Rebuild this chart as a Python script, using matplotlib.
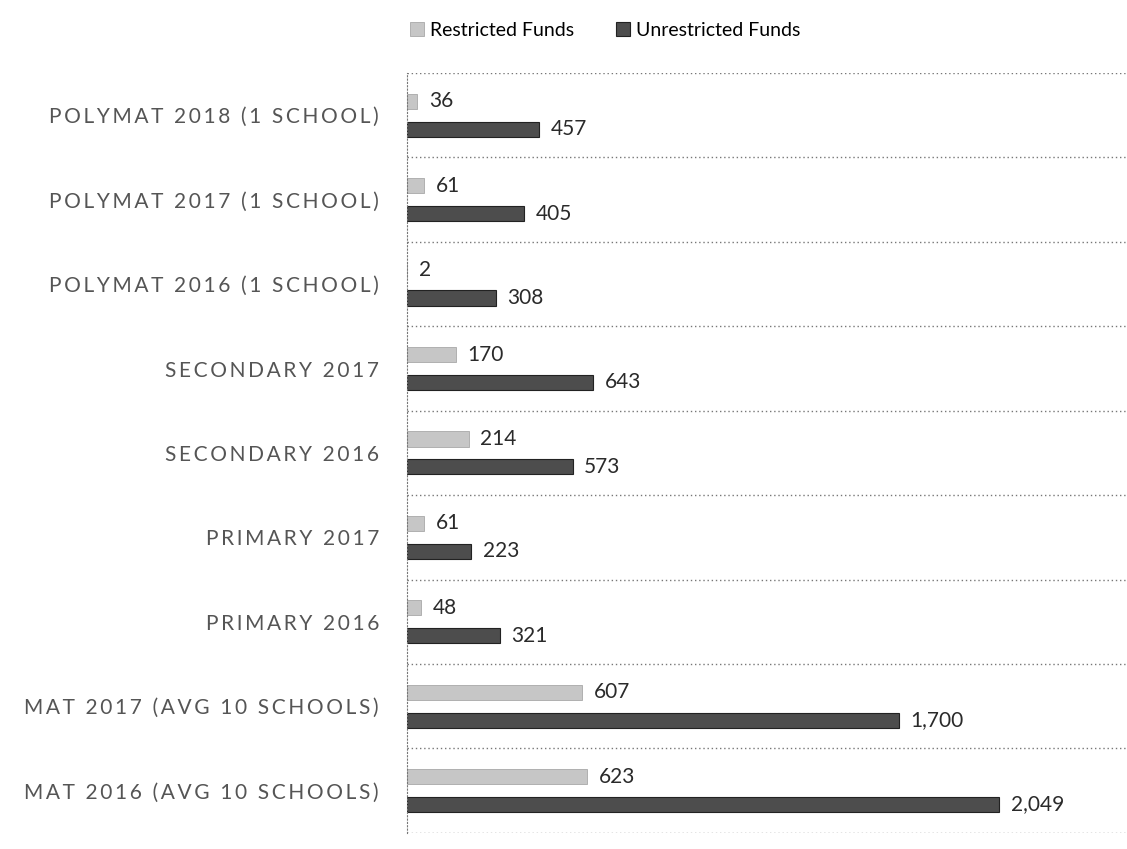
import matplotlib
matplotlib.use("Agg")
import matplotlib.pyplot as plt
import numpy as np

categories = ['POLYMAT 2018 (1 SCHOOL)', 'POLYMAT 2017 (1 SCHOOL)', 'POLYMAT 2016 (1 SCHOOL)',
              'SECONDARY 2017', 'SECONDARY 2016', 'PRIMARY 2017', 'PRIMARY 2016',
              'MAT 2017 (AVG 10 SCHOOLS)', 'MAT 2016 (AVG 10 SCHOOLS)']
restricted = [36, 61, 2, 170, 214, 61, 48, 607, 623]
unrestricted = [457, 405, 308, 643, 573, 223, 321, 1700, 2049]
series_names = ['Restricted Funds', 'Unrestricted Funds']

plt.rcParams['font.family'] = ['Lato', 'DejaVu Sans']

def spaced(s):
    # widen letter spacing like the original
    return '\u2009'.join(list(s))

fig = plt.figure(figsize=(11.27, 8.49), dpi=100)
ax = fig.add_axes([0.361, 0.019, 0.639, 0.895])

y = np.arange(len(categories))
h = 0.18
b1 = ax.barh(y - 0.165, restricted, height=h, color='#c6c6c6', edgecolor='#a8a8a8', linewidth=0.6,
             label=series_names[0])
b2 = ax.barh(y + 0.165, unrestricted, height=h, color='#4d4d4d', edgecolor='#222222', linewidth=0.8,
             label=series_names[1])

for bars, vals in ((b1, restricted), (b2, unrestricted)):
    for rect, v in zip(bars, vals):
        ax.text(rect.get_width() + 40, rect.get_y() + rect.get_height() / 2, f'{v:,}',
                va='center', ha='left', fontsize=15, color='#2a2a2a')

ax.set_xlim(0, 2490)
ax.set_ylim(len(categories) - 0.5, -0.5)
ax.set_yticks(y)
ax.set_yticklabels([spaced(c) for c in categories], fontsize=15, color='#555555')
ax.tick_params(axis='y', length=0, pad=20)
ax.set_xticks([])

# dotted separators between categories
for b in np.arange(-0.5, len(categories), 1.0):
    ax.axhline(b, color='#777777', linestyle=(0, (1, 2)), linewidth=1.0)

for s in ['top', 'right', 'bottom']:
    ax.spines[s].set_visible(False)
ax.spines['left'].set_linestyle((0, (1, 2)))
ax.spines['left'].set_color('#777777')

fig.legend(handles=[b1, b2], labels=series_names, loc='upper center', bbox_to_anchor=(0.537, 0.995),
           ncol=2, frameon=False, fontsize=14, handlelength=0.7, handleheight=0.7,
           handletextpad=0.3, columnspacing=2.2)

fig.savefig('out.png', dpi=100)
